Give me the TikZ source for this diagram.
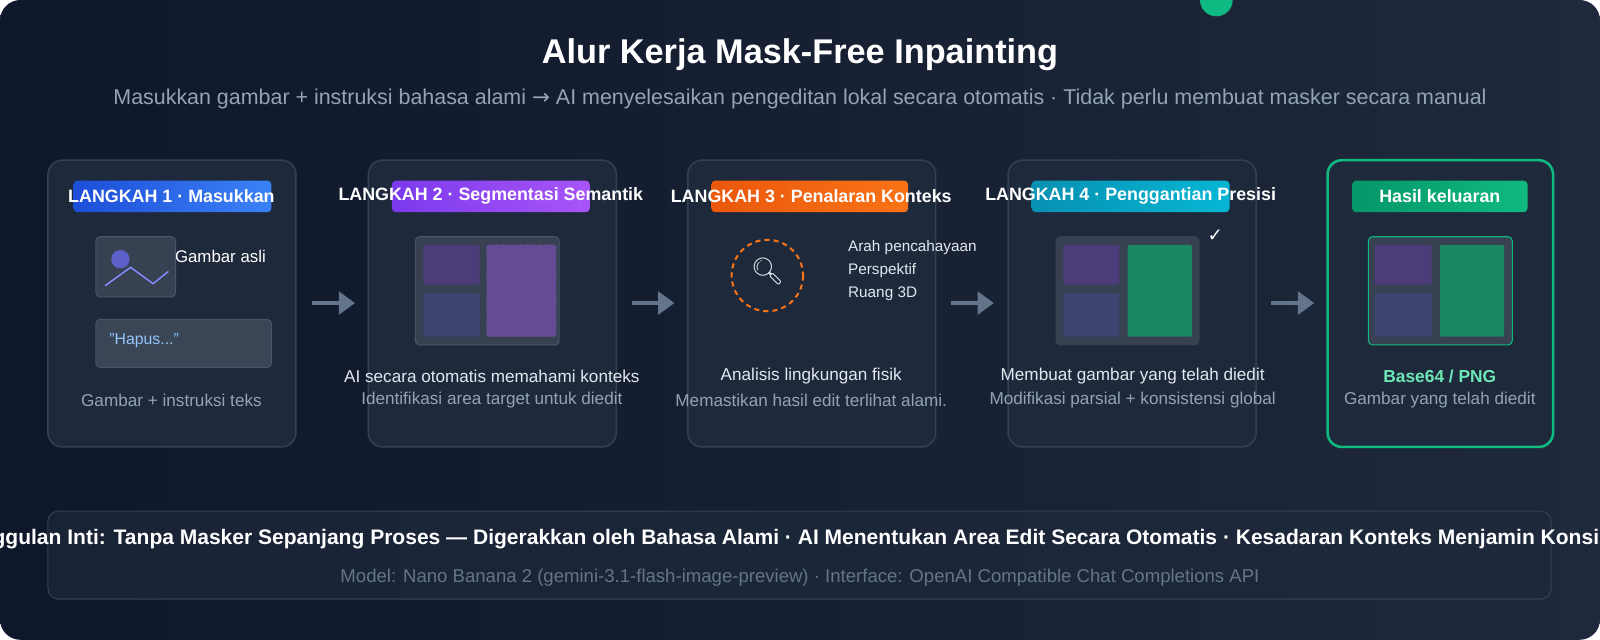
\documentclass[tikz,border=0pt]{standalone}
\usepackage{fontspec}
\setmainfont{Liberation Sans}
\newfontfamily\emo{Noto Emoji}
\newfontfamily\djv{DejaVu Sans}
\usetikzlibrary{arrows.meta}
\definecolor{bgA}{HTML}{0F172A}\definecolor{bgB}{HTML}{1E293B}
\definecolor{card}{HTML}{1E293B}\definecolor{cardb}{HTML}{334155}
\definecolor{sub}{HTML}{94A3B8}\definecolor{lite}{HTML}{E2E8F0}
\definecolor{frm}{HTML}{374151}\definecolor{frmb}{HTML}{475569}
\definecolor{cpA}{HTML}{4C3D7A}\definecolor{cpB}{HTML}{3D4470}\definecolor{cpC}{HTML}{654A94}
\definecolor{cpCb}{HTML}{7855AA}
\definecolor{cg}{HTML}{1B8663}\definecolor{grn}{HTML}{10B981}
\definecolor{arr}{HTML}{64748B}
\definecolor{b1a}{HTML}{1D4ED8}\definecolor{b1b}{HTML}{3B82F6}
\definecolor{b2a}{HTML}{7C3AED}\definecolor{b2b}{HTML}{A855F7}
\definecolor{b3a}{HTML}{EA580C}\definecolor{b3b}{HTML}{F97316}
\definecolor{b4a}{HTML}{0891B2}\definecolor{b4b}{HTML}{06B6D4}
\definecolor{b5a}{HTML}{059669}\definecolor{b5b}{HTML}{10B981}
\definecolor{sun}{HTML}{5B5FC7}\definecolor{mnt}{HTML}{818CF8}
\definecolor{txtbox}{HTML}{3A4556}\definecolor{hap}{HTML}{93C5FD}
\definecolor{mint}{HTML}{6EE7B7}
\tikzset{
 card/.style={draw=cardb,line width=1.5pt,fill=card,rounded corners=14pt},
 badge/.style={rounded corners=4pt},
 btxt/.style={text=white,font=\bfseries\fontsize{17.5}{20}\selectfont,inner sep=0},
 captxt/.style={text=lite,font=\fontsize{16.8}{20}\selectfont,inner sep=0},
 captwo/.style={text=sub,font=\fontsize{16.8}{20}\selectfont,inner sep=0},
 frame/.style={fill=frm,draw=frmb,line width=1pt,rounded corners=4pt},
 cell/.style={rounded corners=2pt},
 flow/.style={draw=arr,line width=4pt,-{Triangle[length=16pt,width=22pt]}},
 lst/.style={text=lite,font=\fontsize{15}{17}\selectfont,inner sep=0,anchor=west},
}
\begin{document}
\begin{tikzpicture}[x=1pt,y=-1pt]
\useasboundingbox (0,0) rectangle (1568,627);
\fill[white] (0,0) rectangle (1568,627);
\begin{scope}
\clip[rounded corners=20pt] (0,0) rectangle (1568,627);
\shade[left color=bgA,right color=bgB] (0,0) rectangle (1568,627);
\fill[grn] (1192,0) circle (16);
\node[text=white,font=\bfseries\fontsize{33.6}{40}\selectfont] (title) at (784,54) {Alur Kerja Mask-Free Inpainting};
\node[text=sub,font=\fontsize{21}{25}\selectfont] (subt) at (784,97) {Masukkan gambar + instruksi bahasa alami {\djv →} AI menyelesaikan pengeditan lokal secara otomatis · Tidak perlu membuat masker secara manual};
% cards
\draw[card] (47,157) rectangle (290,438);
\draw[card] (361,157) rectangle (604,438);
\draw[card] (674,157) rectangle (917,438);
\draw[card] (988,157) rectangle (1231,438);
\draw[card,draw=grn,line width=2.5pt] (1301,157) rectangle (1522,438);
% badges
\shade[badge,left color=b1a,right color=b1b] (72,177) rectangle (266,208);
\node[btxt] (b1) at (168,192) {LANGKAH 1 · Masukkan};
\shade[badge,left color=b2a,right color=b2b] (384,177) rectangle (578,208);
\node[btxt] (b2) at (481,192) {LANGKAH 2 · Segmentasi Semantik};
\shade[badge,left color=b3a,right color=b3b] (697,177) rectangle (890,208);
\node[btxt] (b3) at (795,192) {LANGKAH 3 · Penalaran Konteks};
\shade[badge,left color=b4a,right color=b4b] (1011,177) rectangle (1205,208);
\node[btxt] (b4) at (1108,192) {LANGKAH 4 · Penggantian Presisi};
\shade[badge,left color=b5a,right color=b5b] (1325,177) rectangle (1497,208);
\node[btxt] (b5) at (1411,192) {Hasil keluaran};
% card1
\draw[frame] (94,232) rectangle (172,291);
\fill[sun] (118,254) circle (9);
\draw[mnt,line width=1.5pt] (103,280) -- (128,262) -- (150,278) -- (165,266);
\node[text=white,font=\fontsize{16.5}{19}\selectfont,inner sep=0] (ga) at (216,251) {Gambar asli};
\draw[frame,fill=txtbox] (94,313) rectangle (266,360);
\node[text=hap,font=\fontsize{15.5}{18}\selectfont,inner sep=0,anchor=west] (hp) at (107,334) {"Hapus..."};
\node[captwo] (k1) at (168,392) {Gambar + instruksi teks};
% card2
\draw[frame] (407,232) rectangle (548,338);
\fill[cell,cpA] (415,240) rectangle (470,279);
\fill[cell,cpB] (415,287) rectangle (470,330);
\draw[cell,fill=cpC,draw=cpCb,dashed] (477,240) rectangle (545,330);
\node[captxt] (k2a) at (482,369) {AI secara otomatis memahami konteks};
\node[captwo] (k2b) at (482,392) {Identifikasi area target untuk diedit};
% card3
\draw[b3b,line width=2pt,dash pattern=on 5pt off 4pt] (752,270) circle (35);
\node[font=\emo\fontsize{26}{28}\selectfont,text=lite] (mag) at (752,266) {🔍};
\node[lst] (l1) at (831,243) {Arah pencahayaan};
\node[lst] (l2) at (831,265) {Perspektif};
\node[lst] (l3) at (831,288) {Ruang 3D};
\node[captxt] (k3a) at (795,369) {Analisis lingkungan fisik};
\node[captwo] (k3b) at (795,392) {Memastikan hasil edit terlihat alami.};
% card4
\draw[frame,draw=frm] (1035,232) rectangle (1175,338);
\fill[cell,cpA] (1042,240) rectangle (1097,279);
\fill[cell,cpB] (1042,287) rectangle (1097,330);
\fill[cell,cg] (1105,240) rectangle (1168,330);
\node[text=white,font=\djv\fontsize{18}{20}\selectfont] (chk) at (1191,231) {✓};
\node[captxt] (k4a) at (1110,369) {Membuat gambar yang telah diedit};
\node[captwo] (k4b) at (1110,392) {Modifikasi parsial + konsistensi global};
% card5
\draw[frame,draw=grn] (1341,232) rectangle (1482,338);
\fill[cell,cpA] (1347,240) rectangle (1403,279);
\fill[cell,cpB] (1347,287) rectangle (1403,330);
\fill[cell,cg] (1411,240) rectangle (1474,330);
\node[text=mint,font=\bfseries\fontsize{17}{20}\selectfont,inner sep=0] (k5a) at (1411,369) {Base64 / PNG};
\node[captwo] (k5b) at (1411,392) {Gambar yang telah diedit};
% arrows
\coordinate (a1s) at (306,297); \coordinate (a1e) at (348,297);
\coordinate (a2s) at (619,297); \coordinate (a2e) at (661,297);
\coordinate (a3s) at (932,297); \coordinate (a3e) at (974,297);
\coordinate (a4s) at (1246,297); \coordinate (a4e) at (1288,297);
\draw[flow] (a1s) -- (a1e);
\draw[flow] (a2s) -- (a2e);
\draw[flow] (a3s) -- (a3e);
\draw[flow] (a4s) -- (a4e);
% bottom
\draw[fill=card,fill opacity=0.7,draw=cardb,line width=1pt,rounded corners=10pt] (47,501) rectangle (1520,587);
\node[text=white,font=\bfseries\fontsize{20.6}{24}\selectfont,inner sep=0] (core) at (784,528) {Keunggulan Inti: Tanpa Masker Sepanjang Proses — Digerakkan oleh Bahasa Alami · AI Menentukan Area Edit Secara Otomatis · Kesadaran Konteks Menjamin Konsistensi};
\node[text=arr,font=\fontsize{18.2}{21}\selectfont,inner sep=0] (model) at (784,566) {Model: Nano Banana 2 (gemini-3.1-flash-image-preview) · Interface: OpenAI Compatible Chat Completions API};
\end{scope}
\end{tikzpicture}
\end{document}
